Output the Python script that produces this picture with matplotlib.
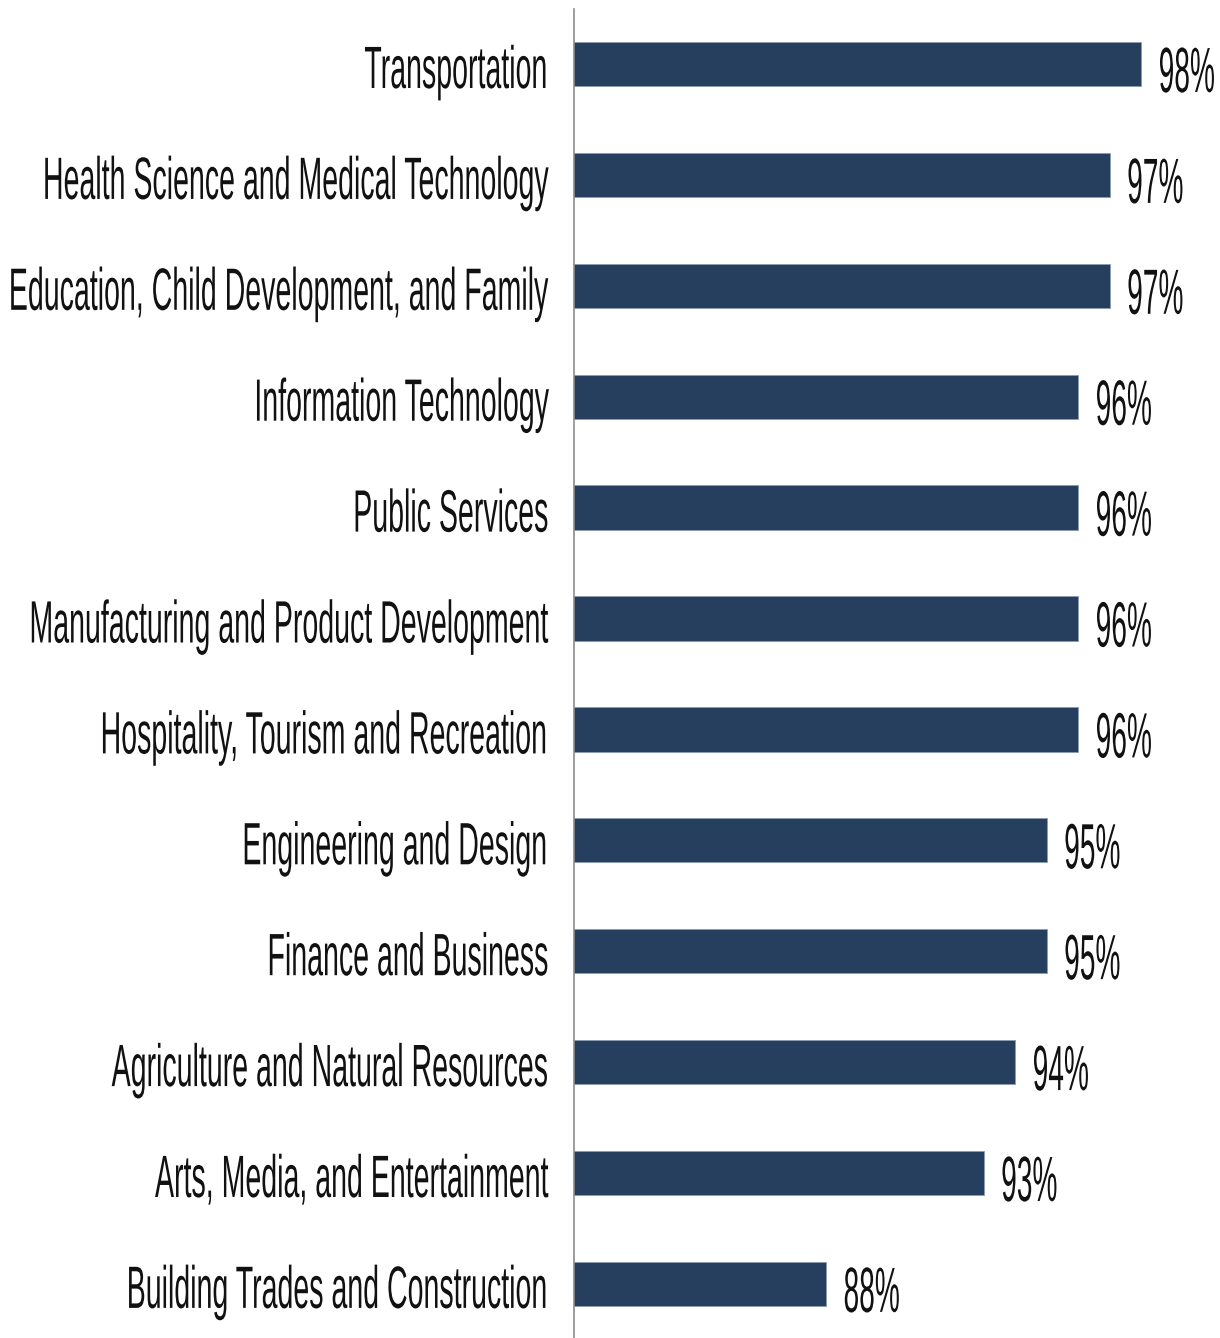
"""
Horizontal bar chart of completion rates by industry sector.
"""
import matplotlib.pyplot as plt
import matplotlib.patheffects as pe
from matplotlib.text import Text
from matplotlib.transforms import Affine2D, Bbox, ScaledTranslation

sectors = [
    "Transportation",
    "Health Science and Medical Technology",
    "Education, Child Development, and Family",
    "Information Technology",
    "Public Services",
    "Manufacturing and Product Development",
    "Hospitality, Tourism and Recreation",
    "Engineering and Design",
    "Finance and Business",
    "Agriculture and Natural Resources",
    "Arts, Media, and Entertainment",
    "Building Trades and Construction",
]
rates = [98, 97, 97, 96, 96, 96, 96, 95, 95, 94, 93, 88]

BAR_COLOR = "#263f5f"
TEXT_COLOR = "#111111"

plt.rcParams["font.family"] = ["Liberation Sans", "DejaVu Sans"]


class Squeeze(pe.AbstractPathEffect):
    """Narrow the glyph outlines horizontally, pinned at one side."""

    def __init__(self, sx, side):
        super().__init__()
        self.sx = sx
        self.side = side

    def draw_path(self, renderer, gc, tpath, affine, rgbFace=None):
        ext = tpath.get_extents(affine)
        pivot = ext.x1 if self.side == "right" else ext.x0
        narrow = affine + Affine2D().translate(-pivot, 0).scale(self.sx, 1).translate(pivot, 0)
        renderer.draw_path(gc, tpath, narrow, rgbFace)


class NarrowText(Text):
    """Text drawn in a condensed width; extent reports the narrowed box."""

    def __init__(self, *args, squeeze=1.0, **kwargs):
        super().__init__(*args, **kwargs)
        self._squeeze = squeeze
        self.set_path_effects([Squeeze(squeeze, self.get_horizontalalignment())])

    def get_window_extent(self, renderer=None, dpi=None):
        bb = super().get_window_extent(renderer, dpi)
        w = bb.width * self._squeeze
        if self.get_horizontalalignment() == "right":
            return Bbox.from_extents(bb.x1 - w, bb.y0, bb.x1, bb.y1)
        return Bbox.from_extents(bb.x0, bb.y0, bb.x0 + w, bb.y1)


fig = plt.figure(figsize=(12.2, 13.38), dpi=100)
ax = fig.add_axes([574 / 1220, -0.001, 630 / 1220, 0.9946])

y = list(range(len(sectors)))
ax.barh(y, rates, height=0.4, color=BAR_COLOR, edgecolor="#8b9bb0", linewidth=0.6)

# Sector names to the left of the axis line
label_tr = ax.get_yaxis_transform() + ScaledTranslation(-0.245, -0.24, fig.dpi_scale_trans)
for yi, name in zip(y, sectors):
    ax.add_artist(NarrowText(0, yi, name, transform=label_tr, ha="right", va="baseline",
                             fontsize=43, color=TEXT_COLOR, squeeze=0.478, clip_on=False))

# Percent labels at the end of each bar
value_tr = ax.transData + ScaledTranslation(0.16, -0.28, fig.dpi_scale_trans)
for yi, val in zip(y, rates):
    ax.add_artist(NarrowText(val, yi, f"{val}%", transform=value_tr, ha="left", va="baseline",
                             fontsize=46, color=TEXT_COLOR, squeeze=0.44, clip_on=False))

ax.set_xlim(80, 100)
ax.set_ylim(len(sectors) - 0.5, -0.5)
ax.set_xticks([])
ax.set_yticks([])

for side in ["top", "right", "bottom"]:
    ax.spines[side].set_visible(False)
ax.spines["left"].set_color("#8c8c8c")
ax.spines["left"].set_linewidth(1.2)

fig.savefig("out.png", dpi=100)
